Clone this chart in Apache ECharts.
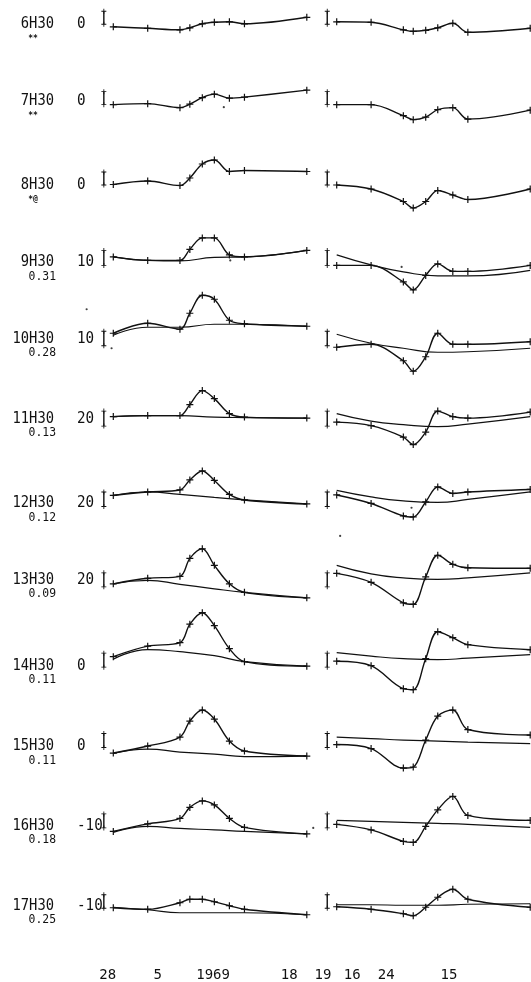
<!DOCTYPE html>
<html>
<head>
<meta charset="utf-8">
<script src="https://cdn.jsdelivr.net/npm/echarts@6/dist/echarts.min.js"></script>
<style>
  html, body { margin: 0; padding: 0; background: #fff; }
  #c { width: 531px; height: 982px; }
</style>
</head>
<body>
<div id="c"></div>
<script>
// Sampling days of each profile, counted from the first sample
const days = [0, 8, 15.5, 17.8, 20.7, 23.5, 27, 30.5, 45];
// Days at which the smooth reference curves are read
const baseDays = [0, 8, 15.5, 23.5, 30.5, 45];

// Hour of the day for each row, with its secondary annotation
const hours = ['6H30', '7H30', '8H30', '9H30', '10H30', '11H30', '12H30', '13H30', '14H30', '15H30', '16H30', '17H30'];
const hourNotes = ['**', '**', '*@', '0.31', '0.28', '0.13', '0.12', '0.09', '0.11', '0.11', '0.18', '0.25'];
const levelLabels = ['0', '0', '0', '10', '10', '20', '20', '20', '0', '0', '-10', '-10'];

// Length of the reference bar drawn at the start of each row
const scaleBar = [13, 13, 13, 15, 14.5, 15, 14.5, 14, 14, 14, 14, 13.5];

// First period: measured profiles (one array per hour)
const leftProfiles = [
  [-2.5, -4, -5.5, -3.5, 0.5, 2, 2.5, 0.5, 7],
  [0, 1, -3, 0.5, 7, 10.5, 6.5, 7.5, 14.5],
  [0.5, 4, -0.5, 7, 21, 25, 13.5, 14.5, 13.5],
  [8.5, 5, 5, 16, 27.5, 27.5, 10.5, 8.5, 15],
  [12.5, 22.5, 16.5, 32.5, 50.5, 46.5, 25.5, 22, 19.5],
  [9.5, 10.5, 10.5, 21.5, 35.5, 27.5, 12.5, 9, 8],
  [11, 14.5, 16.5, 26.5, 35.5, 26, 12, 6.5, 2.5],
  [3, 8.5, 10.5, 28.5, 38, 21.5, 3, -5.5, -11],
  [10.5, 21, 24.5, 43, 54.5, 41.5, 18.5, 5.5, 1],
  [-5.5, 1.5, 10.5, 26.5, 37.5, 28.5, 6.5, -3.5, -8.5],
  [-3.5, 4, 9.5, 20.5, 27, 23, 9.5, 0.5, -6],
  [0.5, -1, 5.5, 9, 9, 6.5, 2.5, -1, -6.5]
];
// First period: smooth reference curves (read at baseDays)
const leftBaselines = [
  null, null, null,
  [8.5, 5, 4.5, 8, 8.5, 15],
  [10.5, 18.5, 18.5, 21.5, 21.5, 19.5],
  [9.5, 10.5, 10.5, 9, 8.5, 8],
  [11, 14.5, 12, 9, 6.5, 2.5],
  [3, 6.5, 2.5, -2, -5.5, -11],
  [8, 17.5, 15.5, 11.5, 5.5, 1],
  [-6, -1.5, -4.5, -6.5, -9, -8.5],
  [-4.5, 1.5, -0.5, -2, -3.5, -6],
  [1, -1.5, -4.5, -4.5, -4.5, -6.5]
];

// Second period: measured profiles
const rightProfiles = [
  [2.5, 2, -5.5, -7, -6, -3.5, 1, -8, -4],
  [0, 0, -11, -15, -12.5, -5, -3, -14.5, -5.5],
  [0, -4, -16.5, -23, -16.5, -5.5, -10, -14.5, -4],
  [0, 0, -16.5, -24.5, -10, 1.5, -6, -6, 0],
  [-1.5, 1.5, -15, -25.5, -11, 12.5, 1.5, 1.5, 4],
  [4, 0.5, -11, -18.5, -6, 15, 9.5, 8, 14],
  [11.5, 3, -9.5, -10.5, 4.5, 19.5, 13, 14.5, 17],
  [13.5, 4.5, -16, -17.5, 10, 31.5, 22.5, 19, 18.5],
  [6, 1.5, -21.5, -22.5, 8.5, 35.5, 29.5, 22.5, 17.5],
  [3, -1, -20.5, -19.5, 7.5, 31.5, 37.5, 18, 12.5],
  [3.5, -2, -13.5, -14.5, 1.5, 18, 31.5, 12.5, 7.5],
  [1.5, -1, -5.5, -7.5, 1, 11, 19, 9, 1]
];
// Second period: smooth reference curves (read at baseDays)
const rightBaselines = [
  null, null, null,
  [10.5, 0.5, -6.5, -10.5, -10.5, -5],
  [11.5, 2.5, -2.5, -6.5, -6, -2.5],
  [12.5, 5, 1.5, -0.5, 2, 9.5],
  [16, 9.5, 5.5, 4, 7, 14.5],
  [21.5, 13, 9, 7.5, 9, 14],
  [14.5, 11, 8.5, 7.5, 9, 12.5],
  [10.5, 9, 7.5, 6.5, 5.5, 4],
  [7.5, 6.5, 5.5, 4.5, 3.5, 0.5],
  [3.5, 3.5, 3, 3, 4, 4.5]
];

// Isolated plotter specks: [row, panel (0 first / 1 second), day, value]
const specks = [
  [1, 0, 25.7, -2.5],
  [3, 0, 27.2, 5],
  [3, 1, 15.1, -1.5],
  [4, 0, -0.4, -2.5],
  [4, 0, -6.2, 36.5],
  [6, 1, 17.4, -1.3],
  [6, 1, 0.8, -29.5],
  [10, 0, 46.5, 0]
];

// Date ticks under each period
const leftTickDays = [-1.3, 10.3, 23.2, 40.9];
const leftTickText = ['28', '5', '1969', '18'];
const rightTickDays = [-3.2, 3.6, 11.5, 26.1];
const rightTickText = ['19', '16', '24', '15'];

// ---- layout ----
const INK = '#111';
const ROW0 = 24.3, ROW_STEP = 80.36;
const PX_PER_DAY = 4.3;
const X_MIN = -8, X_MAX = 46;
const Y_MIN = -50, Y_MAX = 60;
const PANEL_X0 = [113.3, 336.7];
const BAR_DAY = -2.2;
const labelDy = [0, -4, 0, -3, -7, -7, -3, -7, -1, -1, -2, -2];
const PLUS = 'path://M0,2.9h7v1.2h-7z M2.9,0h1.2v7h-1.2z';
const MONO = '"DejaVu Sans Mono", "Liberation Mono", monospace';

const grids = [], xAxes = [], yAxes = [], series = [], graphics = [];
const gridIndexOf = {};

for (let r = 0; r < hours.length; r++) {
  const ref = ROW0 + ROW_STEP * r;
  for (let side = 0; side < 2; side++) {
    const g = grids.length;
    gridIndexOf[r + '_' + side] = g;
    grids.push({
      left: PANEL_X0[side] + X_MIN * PX_PER_DAY,
      width: (X_MAX - X_MIN) * PX_PER_DAY,
      top: ref - Y_MAX,
      height: Y_MAX - Y_MIN,
      containLabel: false,
      outerBoundsMode: 'none'
    });
    const isBottom = r === hours.length - 1;
    const tickDays = side === 0 ? leftTickDays : rightTickDays;
    const tickText = side === 0 ? leftTickText : rightTickText;
    xAxes.push({
      type: 'value', gridIndex: g, min: X_MIN, max: X_MAX,
      show: isBottom,
      axisLine: { show: false }, axisTick: { show: false }, splitLine: { show: false },
      axisLabel: {
        show: isBottom,
        customValues: tickDays,
        margin: 10,
        color: INK,
        fontFamily: MONO,
        fontSize: 14,
        formatter: v => {
          const k = tickDays.findIndex(d => Math.abs(d - v) < 1e-6);
          return k >= 0 ? tickText[k] : '';
        }
      }
    });
    yAxes.push({ type: 'value', gridIndex: g, min: Y_MIN, max: Y_MAX, show: false, splitLine: { show: false } });

    const prof = side === 0 ? leftProfiles[r] : rightProfiles[r];
    const base = side === 0 ? leftBaselines[r] : rightBaselines[r];

    if (base) {
      series.push({
        type: 'line', xAxisIndex: g, yAxisIndex: g,
        data: baseDays.map((d, j) => [d, base[j]]),
        smooth: 0.5, symbol: 'none', clip: false,
        lineStyle: { color: INK, width: 1.2 }, z: 2
      });
    }
    series.push({
      type: 'line', xAxisIndex: g, yAxisIndex: g,
      data: days.map((d, j) => [d, prof[j]]),
      smooth: 0.35, symbol: PLUS, symbolSize: 7, showSymbol: true, clip: false,
      lineStyle: { color: INK, width: 1.4 }, itemStyle: { color: INK }, z: 3
    });
    // reference bar
    series.push({
      type: 'line', xAxisIndex: g, yAxisIndex: g,
      data: [[BAR_DAY, 0], [BAR_DAY, scaleBar[r]]],
      symbol: PLUS, symbolSize: 5, clip: false,
      lineStyle: { color: INK, width: 1.4 }, itemStyle: { color: INK }, z: 3
    });
  }

  // row captions
  const ly = ref + labelDy[r];
  graphics.push({
    type: 'text', x: 54, y: ly, scaleX: 0.92,
    style: { text: hours[r], font: '15px ' + MONO, fill: INK, align: 'right', verticalAlign: 'middle', textAlign: 'right', textVerticalAlign: 'middle' }
  });
  const note = hourNotes[r];
  if (/^\d/.test(note)) {
    graphics.push({
      type: 'text', x: 56, y: ly + 14, scaleX: 0.95,
      style: { text: note, font: '12px ' + MONO, fill: INK, align: 'right', verticalAlign: 'middle', textAlign: 'right', textVerticalAlign: 'middle' }
    });
  } else {
    graphics.push({
      type: 'text', x: 33, y: ly + 15,
      style: { text: note, font: 'bold 8px ' + MONO, fill: INK, align: 'center', verticalAlign: 'middle', textAlign: 'center', textVerticalAlign: 'middle' }
    });
  }
  graphics.push({
    type: 'text', x: 77, y: ly, scaleX: 0.95,
    style: { text: levelLabels[r], font: '15px ' + MONO, fill: INK, align: 'left', verticalAlign: 'middle', textAlign: 'left', textVerticalAlign: 'middle' }
  });
}

// specks
specks.forEach(s => {
  const g = gridIndexOf[s[0] + '_' + s[1]];
  series.push({
    type: 'scatter', xAxisIndex: g, yAxisIndex: g, clip: false,
    data: [[s[2], s[3]]], symbol: 'circle', symbolSize: 2.2,
    itemStyle: { color: INK }, z: 1
  });
});

const chart = echarts.init(document.getElementById('c'), null, { renderer: 'canvas' });
chart.setOption({
  animation: false,
  backgroundColor: '#fff',
  grid: grids,
  xAxis: xAxes,
  yAxis: yAxes,
  series: series,
  graphic: { elements: graphics }
});
</script>
</body>
</html>
